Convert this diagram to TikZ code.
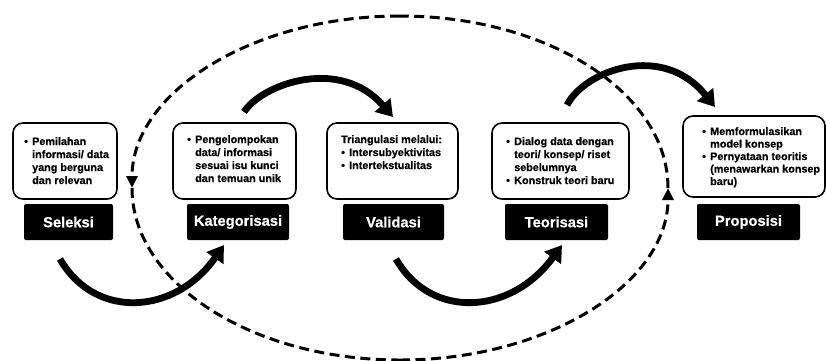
\documentclass[tikz,border=0pt]{standalone}
\usepackage{fontspec}
\setmainfont{Liberation Sans}[BoldFeatures={FakeBold=0.6}]
\usetikzlibrary{arrows.meta}
\newcommand{\bul}{\makebox[8pt][l]{\textbullet}}
\newcommand{\ind}{\hspace*{8pt}}
\begin{document}
\begin{tikzpicture}[x=1pt,y=-1pt,
  rbox/.style={draw=black, line width=1.6pt, rounded corners=10pt, fill=white},
  lbl/.style={fill=black, rounded corners=2pt, text=white, font=\fontsize{14.7}{17}\selectfont\bfseries, minimum height=36pt, inner sep=0pt},
  txt/.style={anchor=north west, align=left, inner sep=0pt, font=\fontsize{10.8}{13}\selectfont\bfseries},
  flow/.style={line width=6.8pt, -{Triangle[length=16pt,width=20pt]}},
  cyc/.style={line width=3pt, dash pattern=on 10pt off 5.5pt},
  cyctip/.style={-{Triangle[length=12pt,width=11pt]}}]
\useasboundingbox (0,0) rectangle (826,360);

% dashed cycle
\coordinate (ec) at (400,188);
\draw[cyc, cyctip] (ec) ++(0,-172) arc[start angle=90, end angle=180, x radius=268pt, y radius=172pt];
\draw[cyc] (ec) ++(-268,0) arc[start angle=180, end angle=270, x radius=268pt, y radius=172pt];
\draw[cyc, cyctip] (ec) ++(0,172) arc[start angle=270, end angle=360, x radius=268pt, y radius=172pt];
\draw[cyc] (ec) ++(268,0) arc[start angle=0, end angle=90, x radius=268pt, y radius=172pt];

% boxes
\node[rbox, minimum width=104pt, minimum height=76pt] (b1) at (65,161) {};
\node[rbox, minimum width=123pt, minimum height=76pt] (b2) at (234.5,161) {};
\node[rbox, minimum width=131pt, minimum height=76pt] (b3) at (392.5,161) {};
\node[rbox, minimum width=137pt, minimum height=76pt] (b4) at (560.5,161) {};
\node[rbox, minimum width=142pt, minimum height=81pt] (b5) at (754,156.5) {};

\node[txt] (t1) at (24,137) {\bul Pemilahan\\\ind informasi/ data\\\ind yang berguna\\\ind dan relevan};
\node[txt] (t2) at (187,135) {\bul Pengelompokan\\\ind data/ informasi\\\ind sesuai isu kunci\\\ind dan temuan unik};
\node[txt] (t3) at (341,135) {Triangulasi melalui:\\\bul Intersubyektivitas\\\bul Intertekstualitas};
\node[txt] (t4) at (506,137) {\bul Dialog data dengan\\\ind teori/ konsep/ riset\\\ind sebelumnya\\\bul Konstruk teori baru};
\node[txt, font=\fontsize{10.8}{12.5}\selectfont\bfseries] (t5) at (702,127) {\bul Memformulasikan\\\ind model konsep\\\bul Pernyataan teoritis\\\ind (menawarkan konsep\\\ind baru)};

% labels
\node[lbl, minimum width=89pt] (l1) at (68.5,222) {Seleksi};
\node[lbl, minimum width=102pt] (l2) at (238,222) {Kategorisasi};
\node[lbl, minimum width=101pt] (l3) at (393.5,222) {Validasi};
\node[lbl, minimum width=103pt] (l4) at (556.5,222) {Teorisasi};
\node[lbl, minimum width=103pt] (l5) at (748.5,222) {Proposisi};

% flow arrows
\coordinate (a1s) at (60,259);
\coordinate (a1e) at (224,245);
\coordinate (a2s) at (244,112);
\coordinate (a2e) at (393,117);
\coordinate (a3s) at (396,259);
\coordinate (a3e) at (562,245);
\coordinate (a4s) at (567,105);
\coordinate (a4e) at (715,107);
\draw[flow] (a1s) .. controls (95,320) and (175,315) .. (a1e);
\draw[flow] (a2s) .. controls (262,84) and (340,56) .. (a2e);
\draw[flow] (a3s) .. controls (431,320) and (511,315) .. (a3e);
\draw[flow] (a4s) .. controls (585,70) and (663,42) .. (a4e);
\end{tikzpicture}
\end{document}
